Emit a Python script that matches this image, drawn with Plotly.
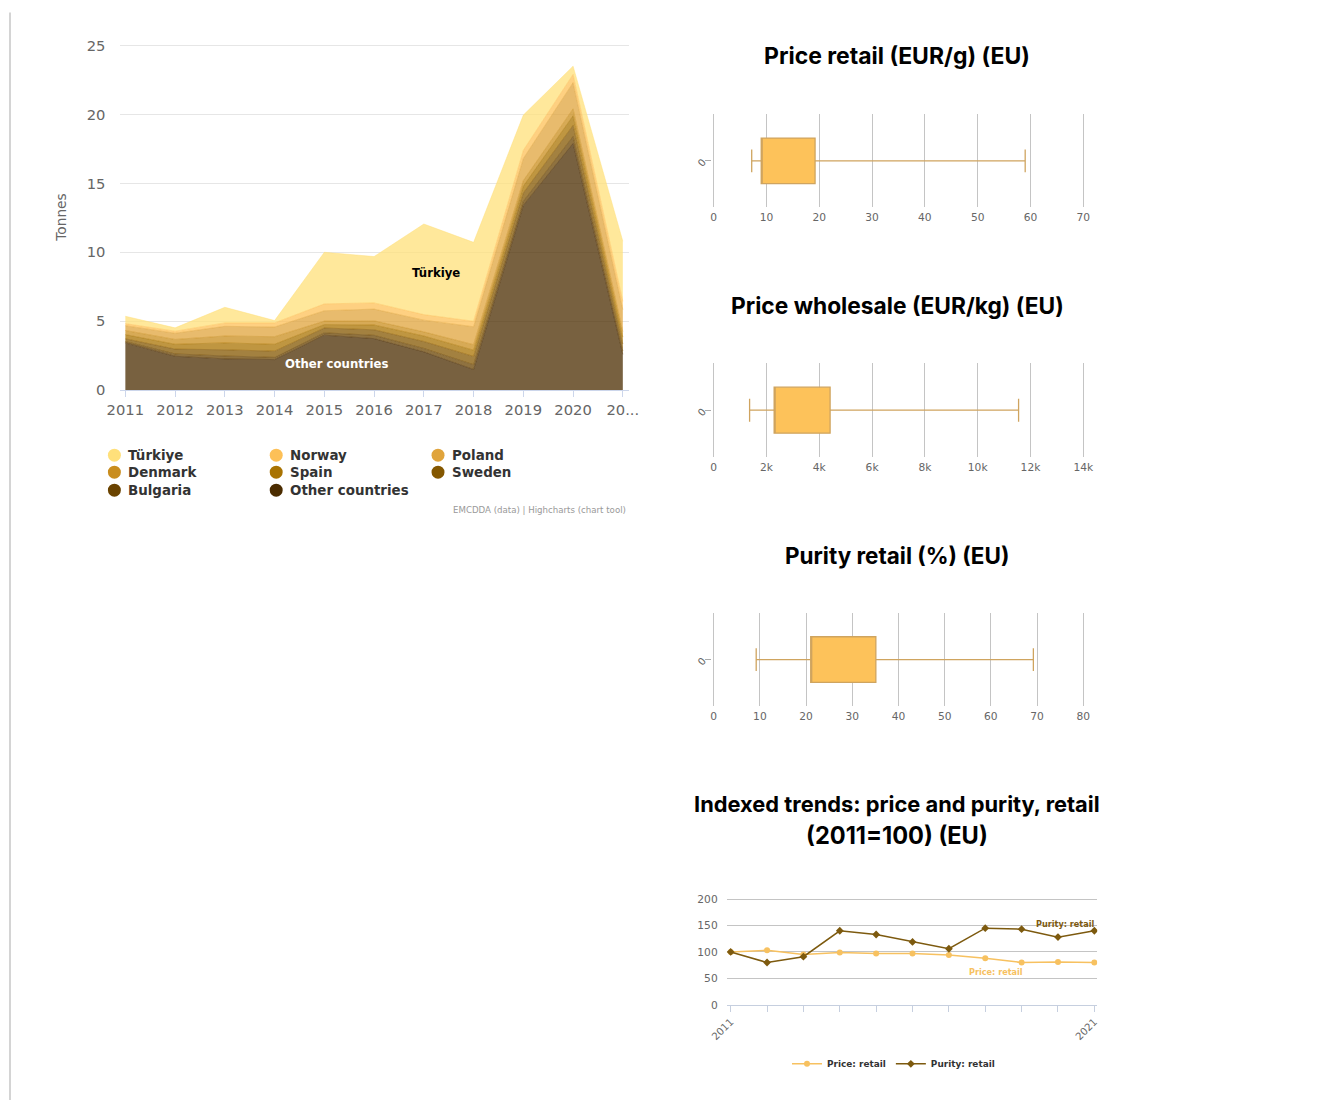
import plotly.graph_objects as go

# ---------------- data ----------------
years = list(range(2011, 2022))
year_labels = ["2011", "2012", "2013", "2014", "2015", "2016", "2017", "2018", "2019", "2020", "20..."]

turkiye = [0.53, 0.24, 1.13, 0.17, 3.74, 3.36, 6.57, 5.72, 2.55, 0.60, 4.35]
norway = [0.15, 0.15, 0.25, 0.30, 0.50, 0.45, 0.40, 0.40, 0.60, 0.60, 0.60]
poland = [0.35, 0.45, 0.70, 0.70, 0.75, 0.85, 0.85, 1.30, 1.60, 1.90, 1.60]
denmark = [0.30, 0.35, 0.50, 0.55, 0.25, 0.30, 0.30, 0.40, 0.40, 0.50, 0.40]
spain = [0.30, 0.35, 0.50, 0.50, 0.25, 0.35, 0.40, 0.45, 0.50, 0.70, 0.50]
sweden = [0.20, 0.35, 0.45, 0.45, 0.35, 0.40, 0.50, 0.60, 0.60, 0.80, 0.50]
bulgaria = [0.10, 0.17, 0.21, 0.16, 0.17, 0.24, 0.25, 0.35, 0.30, 0.50, 0.25]
other_countries = [3.43, 2.46, 2.27, 2.22, 3.99, 3.74, 2.78, 1.50, 13.40, 17.90, 2.60]

# box stats: lower whisker, q1, median, q3, upper whisker
price_retail = [7.2, 9.0, 9.0, 19.2, 59.0]
price_wholesale = [1360, 2290, 2290, 4410, 11550]
purity_retail = [9.2, 21.0, 21.0, 35.1, 69.2]

price_index = [100, 103, 95, 99, 97, 97, 94, 88, 80, 81, 80]
purity_index = [100, 80, 91, 140, 133, 119, 106, 145, 143, 128, 140]

# ---------------- helpers ----------------
W, H = 1341, 1108
SX, BX = 0.981, 15.5
SY, BY = 0.987, 5.6
FS = 1 / 0.984


def px(X):
    return ((X - BX) / SX) / W


def py(Y):
    return 1 - ((Y - BY) / SY) / H


def f(s):
    return round(s * FS, 2)


def rgba(hexc, a):
    hexc = hexc.lstrip("#")
    r, g, b = int(hexc[0:2], 16), int(hexc[2:4], 16), int(hexc[4:6], 16)
    return f"rgba({r},{g},{b},{a})"


series = [
    ("Other countries", other_countries, "#4b2c00"),
    ("Bulgaria", bulgaria, "#6a4300"),
    ("Sweden", sweden, "#845700"),
    ("Spain", spain, "#a97302"),
    ("Denmark", denmark, "#c98d1e"),
    ("Poland", poland, "#e0a43c"),
    ("Norway", norway, "#fdc057"),
    ("Türkiye", turkiye, "#ffe07a"),
]
color_of = {n: c for n, _, c in series}

fig = go.Figure()

for name, vals, col in series:
    fig.add_trace(go.Scatter(
        x=years, y=vals, name=name, mode="lines", stackgroup="one",
        line=dict(width=0.6, color=rgba(col, 0.8)), fillcolor=rgba(col, 0.75),
        showlegend=False, xaxis="x", yaxis="y",
    ))

# box plots
box_fill = "#fdc25a"
box_line = "#cfa45f"
for i, st in enumerate([price_retail, price_wholesale, purity_retail]):
    ax = str(i + 2)
    fig.add_trace(go.Box(
        y=[0], lowerfence=[st[0]], q1=[st[1]], median=[st[2]], q3=[st[3]], upperfence=[st[4]],
        orientation="h", fillcolor=box_fill, line=dict(color=box_line, width=1.3),
        width=0.49, whiskerwidth=0.5, showlegend=False, name="0",
        xaxis="x" + ax, yaxis="y" + ax,
    ))

# indexed trends
fig.add_trace(go.Scatter(
    x=years, y=price_index, name="Price: retail", mode="lines+markers",
    line=dict(color="#f7c160", width=1.5), marker=dict(symbol="circle", size=6, color="#f7c160"),
    xaxis="x5", yaxis="y5",
))
fig.add_trace(go.Scatter(
    x=years, y=purity_index, name="Purity: retail", mode="lines+markers",
    line=dict(color="#7d5a0f", width=1.5), marker=dict(symbol="diamond", size=6, color="#7d5a0f"),
    xaxis="x5", yaxis="y5",
))

tick_font = dict(family="DejaVu Sans", color="#666666")

layout = dict(
    width=W, height=H, margin=dict(l=0, r=0, t=0, b=0),
    paper_bgcolor="white", plot_bgcolor="rgba(0,0,0,0)",
    showlegend=True,
    legend=dict(orientation="h", x=px(893), xanchor="center", y=py(1063), yanchor="middle",
                traceorder="normal",
                font=dict(family="DejaVu Sans", size=f(8.8), color="#333333", weight="bold"),
                itemwidth=30, bgcolor="rgba(0,0,0,0)"),
    # area chart
    xaxis=dict(domain=[px(119), px(628)], range=[2010.9, 2021.12], tickvals=years, ticktext=year_labels,
               showgrid=False, zeroline=False, showline=True, linecolor="#ccd6eb", linewidth=1,
               ticks="outside", ticklen=6, tickcolor="#ccd6eb",
               tickfont=dict(size=f(14.5), **tick_font), fixedrange=True),
    yaxis=dict(domain=[py(389), py(42)], range=[0, 25.15], tickvals=[0, 5, 10, 15, 20, 25],
               showgrid=True, gridcolor="#e6e6e6",
               gridwidth=1, zeroline=False, showline=False, ticklabelstandoff=14,
               tickfont=dict(size=f(14.5), **tick_font)),
)

box_dom = [(113, 206), (362, 456), (612, 705)]
box_ranges = [(0, 70, 10), (0, 14000, 2000), (0, 80, 10)]
x0p, x1p = 713, 1083
for i in range(3):
    ax = str(i + 2)
    top, bot = box_dom[i]
    lo, hi, step = box_ranges[i]
    tv = list(range(lo, hi + 1, step))
    tt = [("0" if v == 0 else f"{v // 1000}k") for v in tv] if i == 1 else [str(v) for v in tv]
    upp = (hi - lo) / (x1p - x0p)
    pad = 2
    layout["xaxis" + ax] = dict(domain=[px(x0p - pad), px(x1p + pad)], range=[lo - pad * upp, hi + pad * upp],
                                tickvals=tv, ticktext=tt,
                                showgrid=True, gridcolor="#c4c4c4", gridwidth=1, zeroline=False,
                                showline=False, ticks="", ticklabelstandoff=2,
                                tickfont=dict(size=f(10.5), **tick_font), anchor="y" + ax)
    layout["yaxis" + ax] = dict(domain=[py(bot), py(top)], range=[-0.5, 0.5], tickvals=[0], ticktext=["0"],
                                showgrid=False, zeroline=False, showline=False, ticks="outside",
                                ticklen=6, tickcolor="#aaaaaa", tickangle=-50,
                                tickfont=dict(size=f(10), **tick_font), anchor="x" + ax)

layout["xaxis5"] = dict(domain=[px(726), px(1097)], range=[2010.89, 2021.08], tickvals=years,
                        ticktext=["2011"] + [""] * 9 + ["2021"], tickangle=-45,
                        showgrid=False, zeroline=False, showline=True, linecolor="#c6cfdf", linewidth=1,
                        ticks="outside", ticklen=6, tickcolor="#c6cfdf", ticklabelstandoff=0,
                        tickfont=dict(size=f(10), **tick_font), anchor="y5")
layout["yaxis5"] = dict(domain=[py(1004), py(896)], range=[0, 204], tickvals=[0, 50, 100, 150, 200],
                        showgrid=True,
                        gridcolor="#c4c4c4", gridwidth=1, zeroline=False, showline=False,
                        ticklabelstandoff=8, tickfont=dict(size=f(10.5), **tick_font), anchor="x5")

fig.update_layout(**layout)

# ---------------- annotations ----------------
ann = []
for txt, Y, sz in [("Price retail (EUR/g) (EU)", 55, 22.6), ("Price wholesale (EUR/kg) (EU)", 304, 22.4),
                   ("Purity retail (%) (EU)", 554, 22.1), ("Indexed trends: price and purity, retail", 803, 21.5),
                   ("(2011=100) (EU)", 835, 23.2)]:
    ann.append(dict(text=txt, x=px(897), y=py(Y), xref="paper", yref="paper", xanchor="center",
                    yanchor="middle", showarrow=False,
                    font=dict(family="Inter", size=f(sz), color="#000000", weight="bold")))

ann.append(dict(text="Tonnes", x=px(60), y=py(216), xref="paper", yref="paper", textangle=-90,
                xanchor="center", yanchor="middle",
                showarrow=False, font=dict(family="DejaVu Sans", size=f(13.5), color="#666666")))
ann.append(dict(text="Türkiye", x=2017.25, y=8.5, xref="x", yref="y", showarrow=False,
                font=dict(family="DejaVu Sans", size=f(11.5), color="#000000", weight="bold")))
ann.append(dict(text="Other countries", x=2015.24, y=1.88, xref="x", yref="y", showarrow=False,
                font=dict(family="DejaVu Sans", size=f(11.5), color="#ffffff", weight="bold")))
ann.append(dict(text="EMCDDA (data) | Highcharts (chart tool)", x=px(627), y=py(509), xref="paper",
                yref="paper", xanchor="right", yanchor="middle", showarrow=False,
                font=dict(family="DejaVu Sans", size=f(8.5), color="#999999")))
ann.append(dict(text="Purity: retail", x=2020.2, y=152, xref="x5", yref="y5", xanchor="center",
                yanchor="middle", showarrow=False,
                font=dict(family="DejaVu Sans", size=f(8), color="#7d5a0f", weight="bold")))
ann.append(dict(text="Price: retail", x=2018.3, y=63, xref="x5", yref="y5", xanchor="center",
                yanchor="middle", showarrow=False,
                font=dict(family="DejaVu Sans", size=f(8), color="#f7c160", weight="bold")))

# manual legend for the area chart (Highcharts-like 3 columns)
legend_layout = [
    ("Türkiye", 113, 454), ("Norway", 275, 454), ("Poland", 437, 454),
    ("Denmark", 113, 471), ("Spain", 275, 471), ("Sweden", 437, 471),
    ("Bulgaria", 113, 489), ("Other countries", 275, 489),
]
shapes = []
for name, cx, cy in legend_layout:
    r = 6.5
    shapes.append(dict(type="circle", xref="paper", yref="paper", x0=px(cx - r), x1=px(cx + r),
                       y0=py(cy + r), y1=py(cy - r), fillcolor=color_of[name], line=dict(width=0)))
    ann.append(dict(text=name, x=px(cx + 12), y=py(cy), xref="paper", yref="paper", xanchor="left",
                    yanchor="middle", showarrow=False,
                    font=dict(family="DejaVu Sans", size=f(13.2), color="#333333", weight="bold")))

shapes.append(dict(type="line", xref="paper", yref="paper", x0=px(8.5), x1=px(8.5), y0=py(11), y1=0,
                   line=dict(color="#d4d4d4", width=2)))

fig.update_layout(annotations=ann, shapes=shapes)
fig.write_html(
    "out.html",
    config={"displayModeBar": False},
    post_script="document.body.style.margin='0';document.body.style.overflow='hidden';"
                "document.documentElement.style.overflow='hidden';",
)
